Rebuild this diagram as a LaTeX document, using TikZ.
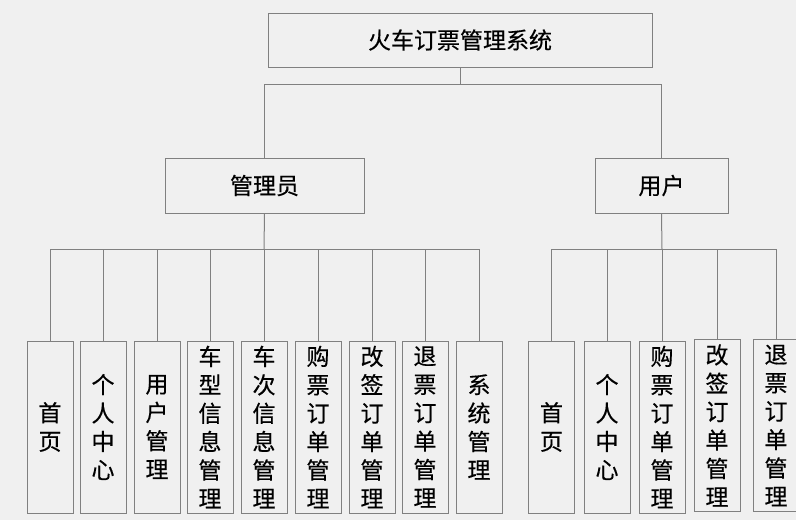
\documentclass[tikz,border=0pt]{standalone}
\usepackage{fontspec}
\setmainfont{Noto Sans CJK SC}[FakeBold=0.4]
\definecolor{bgcol}{HTML}{F0F0F0}
\definecolor{linecol}{HTML}{808080}
\tikzset{
  box/.style={draw=linecol, line width=1pt, fill=bgcol, inner sep=0pt,
    font=\fontsize{23}{28.4}\selectfont, text=black},
  leaf/.style={box, minimum width=46pt, minimum height=172pt, align=center},
  conn/.style={draw=linecol, line width=1pt}
}
\begin{document}
\begin{tikzpicture}[x=1pt,y=-1pt]
\useasboundingbox[fill=bgcol] (0,0) rectangle (796,520);
% top level
\node[box, minimum width=384pt, minimum height=54pt] (top) at (460,40) {火车订票管理系统};
\node[box, minimum width=199pt, minimum height=55pt] (admin) at (264.5,185.5) {管理员};
\node[box, minimum width=133pt, minimum height=55pt] (user) at (661.5,185.5) {用户};
\coordinate (tbus) at (460,84);
\coordinate (abus) at (264,249);
\coordinate (ubus) at (662,249);
% admin leaves
\node[leaf] (a1) at (50,427) {首\\页};
\node[leaf] (a2) at (103,427) {个\\人\\中\\心};
\node[leaf] (a3) at (157,427) {用\\户\\管\\理};
\node[leaf] (a4) at (210,427) {车\\型\\信\\息\\管\\理};
\node[leaf] (a5) at (264,427) {车\\次\\信\\息\\管\\理};
\node[leaf] (a6) at (318,427) {购\\票\\订\\单\\管\\理};
\node[leaf] (a7) at (372,427) {改\\签\\订\\单\\管\\理};
\node[leaf] (a8) at (425,427) {退\\票\\订\\单\\管\\理};
\node[leaf] (a9) at (479,427) {系\\统\\管\\理};
% user leaves
\node[leaf] (u1) at (551.5,427) {首\\页};
\node[leaf] (u2) at (607,427) {个\\人\\中\\心};
\node[leaf] (u3) at (662,427) {购\\票\\订\\单\\管\\理};
\node[leaf] (u4) at (717,425.5) {改\\签\\订\\单\\管\\理};
\node[leaf] (u5) at (776,425.5) {退\\票\\订\\单\\管\\理};
% connectors
\draw[conn] (top.south) -- (tbus);
\draw[conn] (admin.north) |- (user.north |- tbus) -- (user.north);
\draw[conn] (admin.south) -- (abus);
\draw[conn] (a1.north |- abus) -- (a9.north |- abus);
\foreach \n in {a1,a2,a3,a4,a5,a6,a7,a8,a9} {
  \draw[conn] (\n.north) -- (\n.north |- abus);
}
\draw[conn] (user.south) -- (ubus);
\draw[conn] (u1.north |- ubus) -- (u5.north |- ubus);
\foreach \n in {u1,u2,u3,u4,u5} {
  \draw[conn] (\n.north) -- (\n.north |- ubus);
}
\end{tikzpicture}
\end{document}
